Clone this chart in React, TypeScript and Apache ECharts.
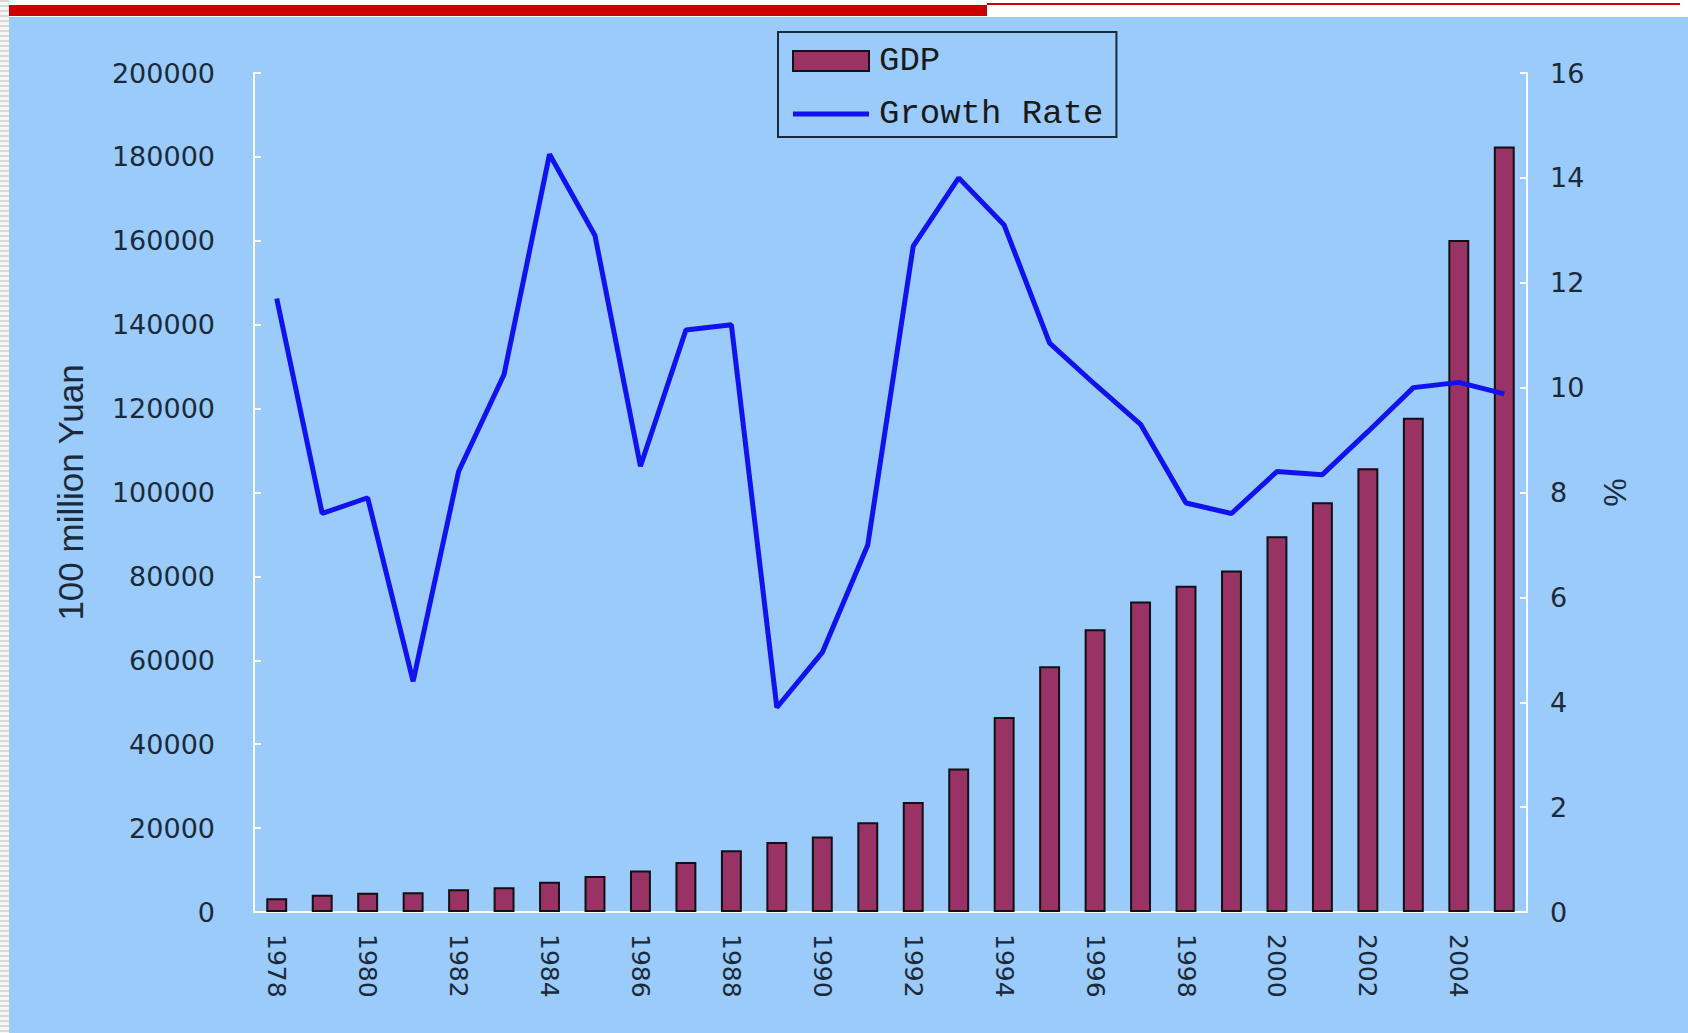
import React, { useEffect, useRef } from "react";
import * as echarts from "echarts";

const years = [
  "1978", "1979", "1980", "1981", "1982", "1983", "1984", "1985", "1986", "1987",
  "1988", "1989", "1990", "1991", "1992", "1993", "1994", "1995", "1996", "1997",
  "1998", "1999", "2000", "2001", "2002", "2003", "2004", "2005",
];

const gdpValues = [
  3300, 4100, 4600, 4700, 5400, 5900, 7200, 8600, 9900, 11900,
  14700, 16700, 18000, 21400, 26200, 34200, 46500, 58600, 67400, 74000,
  77800, 81400, 89600, 97700, 105800, 117800, 160200, 182500,
];

const growthValues = [
  11.7, 7.6, 7.9, 4.4, 8.4, 10.25, 14.45, 12.9, 8.5, 11.1,
  11.2, 3.9, 4.95, 7.0, 12.7, 14.0, 13.1, 10.85, 10.06, 9.3,
  7.8, 7.6, 8.4, 8.34, 9.16, 10.0, 10.1, 9.88,
];

const leftAxisName = "100 million Yuan";
const rightAxisName = "%";
const seriesNames = ["GDP", "Growth Rate"];

const labelColor = "#1b2a3a";

export default function App() {
  const ref = useRef<HTMLDivElement>(null);

  useEffect(() => {
    if (!ref.current) return;
    const chart = echarts.init(ref.current, undefined, { renderer: "svg" });
    chart.setOption({
      animation: false,
      backgroundColor: "transparent",
      grid: { left: 254, right: 161, top: 73, bottom: 121, containLabel: false },
      legend: {
        orient: "vertical",
        left: 778,
        top: 32,
        padding: [12, 13, 6, 14],
        itemGap: 19,
        itemWidth: 76,
        itemHeight: 20,
        borderColor: "#1b2a3a",
        borderWidth: 2,
        backgroundColor: "transparent",
        textStyle: {
          fontFamily: "Liberation Mono",
          fontSize: 34,
          color: "#1a1a1a",
          lineHeight: 34,
          padding: [0, 0, 0, 5],
        },
        data: [
          { name: seriesNames[0], icon: "rect" },
          { name: seriesNames[1], icon: "path://M0,0H76V5H0Z" },
        ],
      },
      xAxis: {
        type: "category",
        data: years,
        boundaryGap: true,
        axisLine: { lineStyle: { color: "#ffffff", width: 2 } },
        axisTick: { inside: true, length: 6, interval: 0, lineStyle: { color: "#ffffff", width: 2 } },
        axisLabel: {
          interval: 1,
          rotate: -90,
          margin: 22,
          fontFamily: "DejaVu Sans",
          fontSize: 25,
          color: labelColor,
        },
        splitLine: { show: false },
      },
      yAxis: [
        {
          type: "value",
          min: 0,
          max: 200000,
          interval: 20000,
          name: leftAxisName,
          nameLocation: "middle",
          nameRotate: 90,
          nameGap: 166,
          nameTextStyle: { fontFamily: "Liberation Sans", fontSize: 35, color: labelColor },
          axisLine: { show: true, lineStyle: { color: "#ffffff", width: 2 } },
          axisTick: { show: true, inside: true, length: 7, lineStyle: { color: "#ffffff", width: 2 } },
          axisLabel: {
            margin: 39,
            fontFamily: "DejaVu Sans",
            fontSize: 27,
            color: labelColor,
            formatter: (v: number) => String(v),
          },
          splitLine: { show: false },
        },
        {
          type: "value",
          min: 0,
          max: 16,
          interval: 2,
          position: "right",
          name: rightAxisName,
          nameLocation: "middle",
          nameRotate: -90,
          nameGap: 72,
          nameTextStyle: { fontFamily: "Liberation Sans", fontSize: 32, color: labelColor },
          axisLine: { show: true, lineStyle: { color: "#ffffff", width: 2 } },
          axisTick: { show: true, inside: true, length: 7, lineStyle: { color: "#ffffff", width: 2 } },
          axisLabel: { margin: 23, fontFamily: "DejaVu Sans", fontSize: 27, color: labelColor },
          splitLine: { show: false },
        },
      ],
      series: [
        {
          name: seriesNames[0],
          type: "bar",
          yAxisIndex: 0,
          data: gdpValues,
          barWidth: "46%",
          itemStyle: { color: "#993366", borderColor: "#111111", borderWidth: 2 },
        },
        {
          name: seriesNames[1],
          type: "line",
          yAxisIndex: 1,
          data: growthValues,
          symbol: "none",
          lineStyle: { color: "#1212ee", width: 5 },
          itemStyle: { color: "#1212ee" },
          z: 5,
        },
      ],
    });
    return () => chart.dispose();
  }, []);

  return (
    <div style={{ position: "fixed", left: 0, top: 0, width: 1688, height: 1033, background: "#ffffff", overflow: "hidden" }}>
      <div
        style={{
          position: "absolute", left: 0, top: 0, width: 9, height: 1033,
          background: "repeating-linear-gradient(180deg, #d8d8d8 0px, #d8d8d8 2px, #f6f6f6 2px, #f6f6f6 5px)",
        }}
      />
      <div style={{ position: "absolute", left: 9, top: 17, right: 0, bottom: 0, background: "#9acbfb" }} />
      <div style={{ position: "absolute", left: 9, top: 5, width: 978, height: 11, background: "#cc0000" }} />
      <div style={{ position: "absolute", left: 987, top: 3, width: 693, height: 2, background: "#cc0000" }} />
      <div ref={ref} style={{ position: "absolute", left: 0, top: 0, width: 1688, height: 1033 }} />
    </div>
  );
}
